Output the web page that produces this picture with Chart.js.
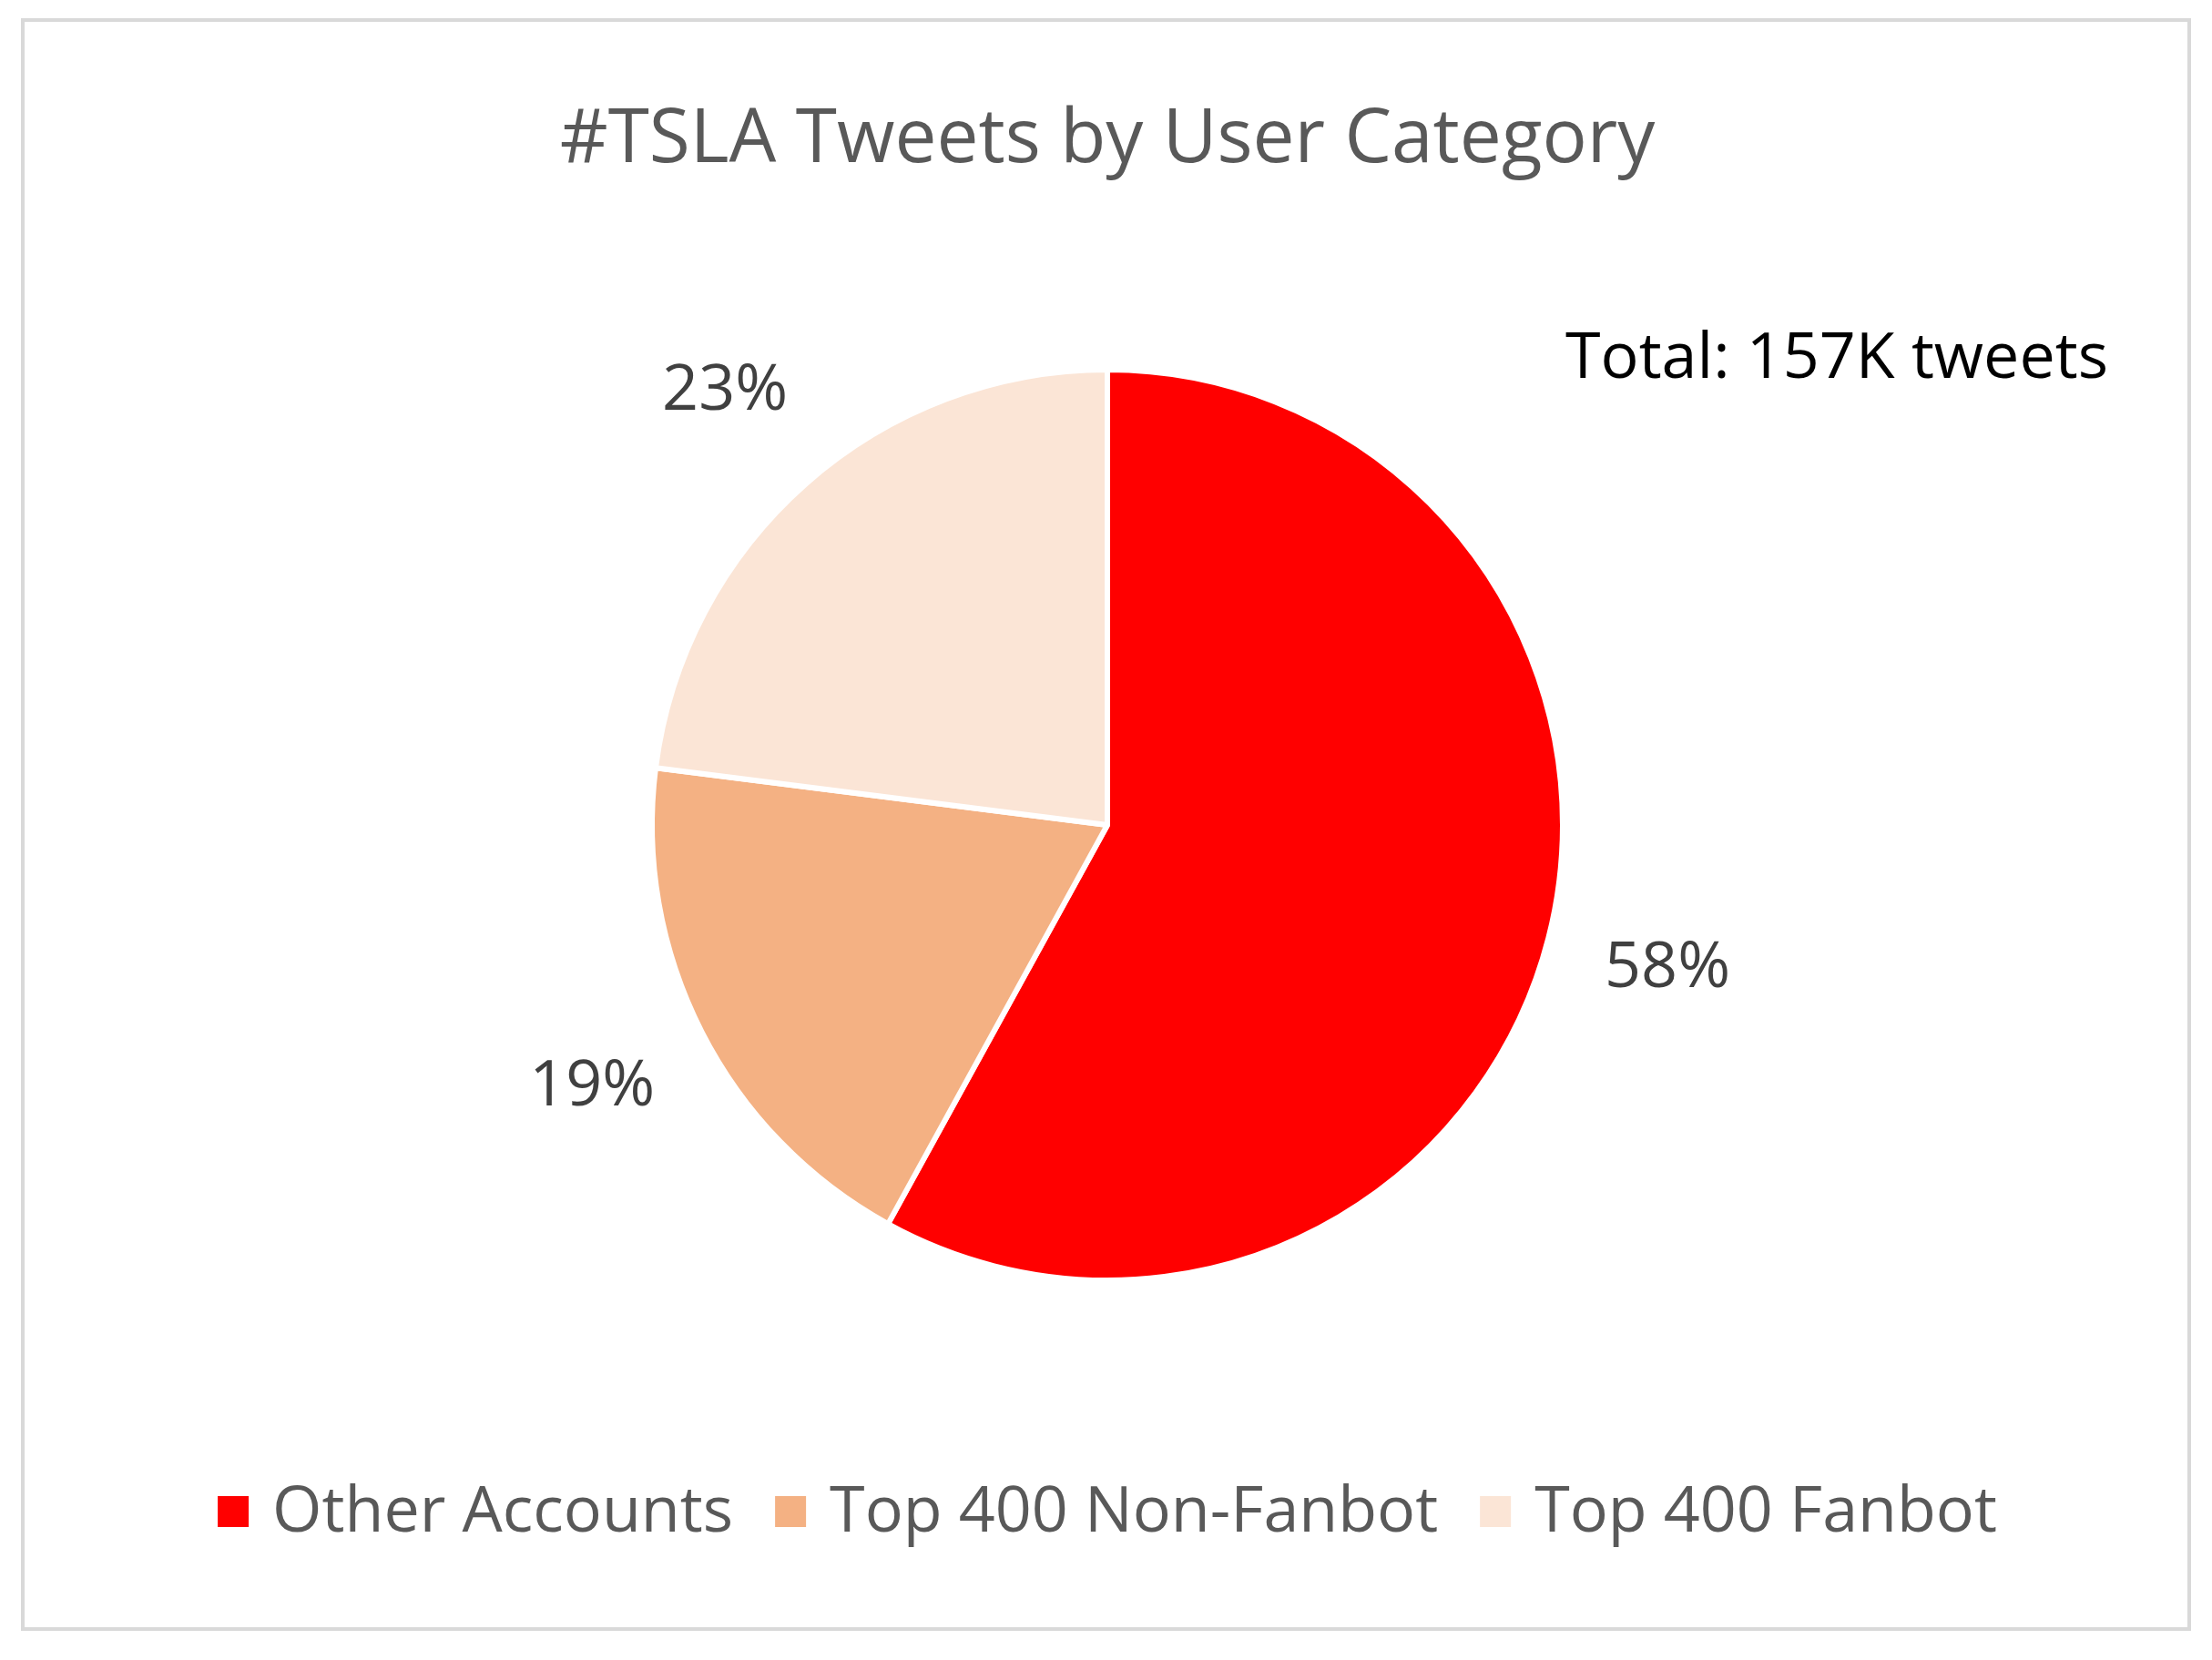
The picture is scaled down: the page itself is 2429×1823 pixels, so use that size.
<!DOCTYPE html>
<html>
<head>
<meta charset="utf-8">
<script src="https://cdn.jsdelivr.net/npm/chart.js@4"></script>
<style>
  html, body { margin: 0; padding: 0; background: #fff; }
  #wrap { width: 2429px; height: 1823px; position: relative; }
</style>
</head>
<body>
<div id="wrap"><canvas id="c" width="2429" height="1823"></canvas></div>
<script>
var categories = ['Other Accounts', 'Top 400 Non-Fanbot', 'Top 400 Fanbot'];
var shares = [58, 19, 23];
var colors = ['#FF0000', '#F4B183', '#FBE5D6'];
var titleText = '#TSLA Tweets by User Category';
var noteText = 'Total: 157K tweets';

var FONT = '"Open Sans", sans-serif';

// frame, title, note, outside labels and legend
var decor = {
    id: 'decor',
    beforeDraw: function (chart) {
        var ctx = chart.ctx;
        ctx.save();
        ctx.fillStyle = '#fff';
        ctx.fillRect(0, 0, chart.width, chart.height);
        ctx.strokeStyle = '#d9d9d9';
        ctx.lineWidth = 4;
        ctx.strokeRect(25, 22, 2379, 1767);
        ctx.restore();
    },
    afterDraw: function (chart) {
        var ctx = chart.ctx;
        ctx.save();
        ctx.textBaseline = 'middle';

        ctx.fillStyle = '#595959';
        ctx.font = '82px ' + FONT;
        ctx.textAlign = 'center';
        ctx.fillText(titleText, 1216, 155);

        ctx.fillStyle = '#000';
        ctx.font = '70px ' + FONT;
        ctx.textAlign = 'right';
        ctx.fillText(noteText, 2315, 395);

        // percentage labels just outside each slice
        ctx.fillStyle = '#404040';
        ctx.font = '70px ' + FONT;
        ctx.textAlign = 'center';
        chart.getDatasetMeta(0).data.forEach(function (arc, i) {
            var p = arc.getProps(['x', 'y', 'startAngle', 'endAngle', 'outerRadius'], true);
            var a = (p.startAngle + p.endAngle) / 2;
            var r = p.outerRadius * 1.27;
            ctx.fillText(shares[i] + '%', p.x + Math.cos(a) * r, p.y + Math.sin(a) * r);
        });

        // legend
        ctx.font = '70px ' + FONT;
        ctx.textAlign = 'left';
        var box = 34, gapBox = 26, gapItem = 46;
        var total = 0;
        categories.forEach(function (c, i) {
            total += box + gapBox + ctx.measureText(c).width + (i < categories.length - 1 ? gapItem : 0);
        });
        var x = 1216 - total / 2, y = 1660;
        categories.forEach(function (c, i) {
            ctx.fillStyle = colors[i];
            ctx.fillRect(x, y - box / 2, box, box);
            x += box + gapBox;
            ctx.fillStyle = '#595959';
            ctx.fillText(c, x, y + 2);
            x += ctx.measureText(c).width + gapItem;
        });
        ctx.restore();
    }
};

new Chart(document.getElementById('c'), {
    type: 'pie',
    data: {
        labels: categories,
        datasets: [{
            data: shares,
            backgroundColor: colors,
            borderColor: '#ffffff',
            borderWidth: 6
        }]
    },
    options: {
        responsive: false,
        animation: false,
        devicePixelRatio: 1,
        layout: { padding: { left: 713, right: 710, top: 403, bottom: 414 } },
        plugins: { legend: { display: false }, title: { display: false }, tooltip: { enabled: false } }
    },
    plugins: [decor]
});
</script>
</body>
</html>
